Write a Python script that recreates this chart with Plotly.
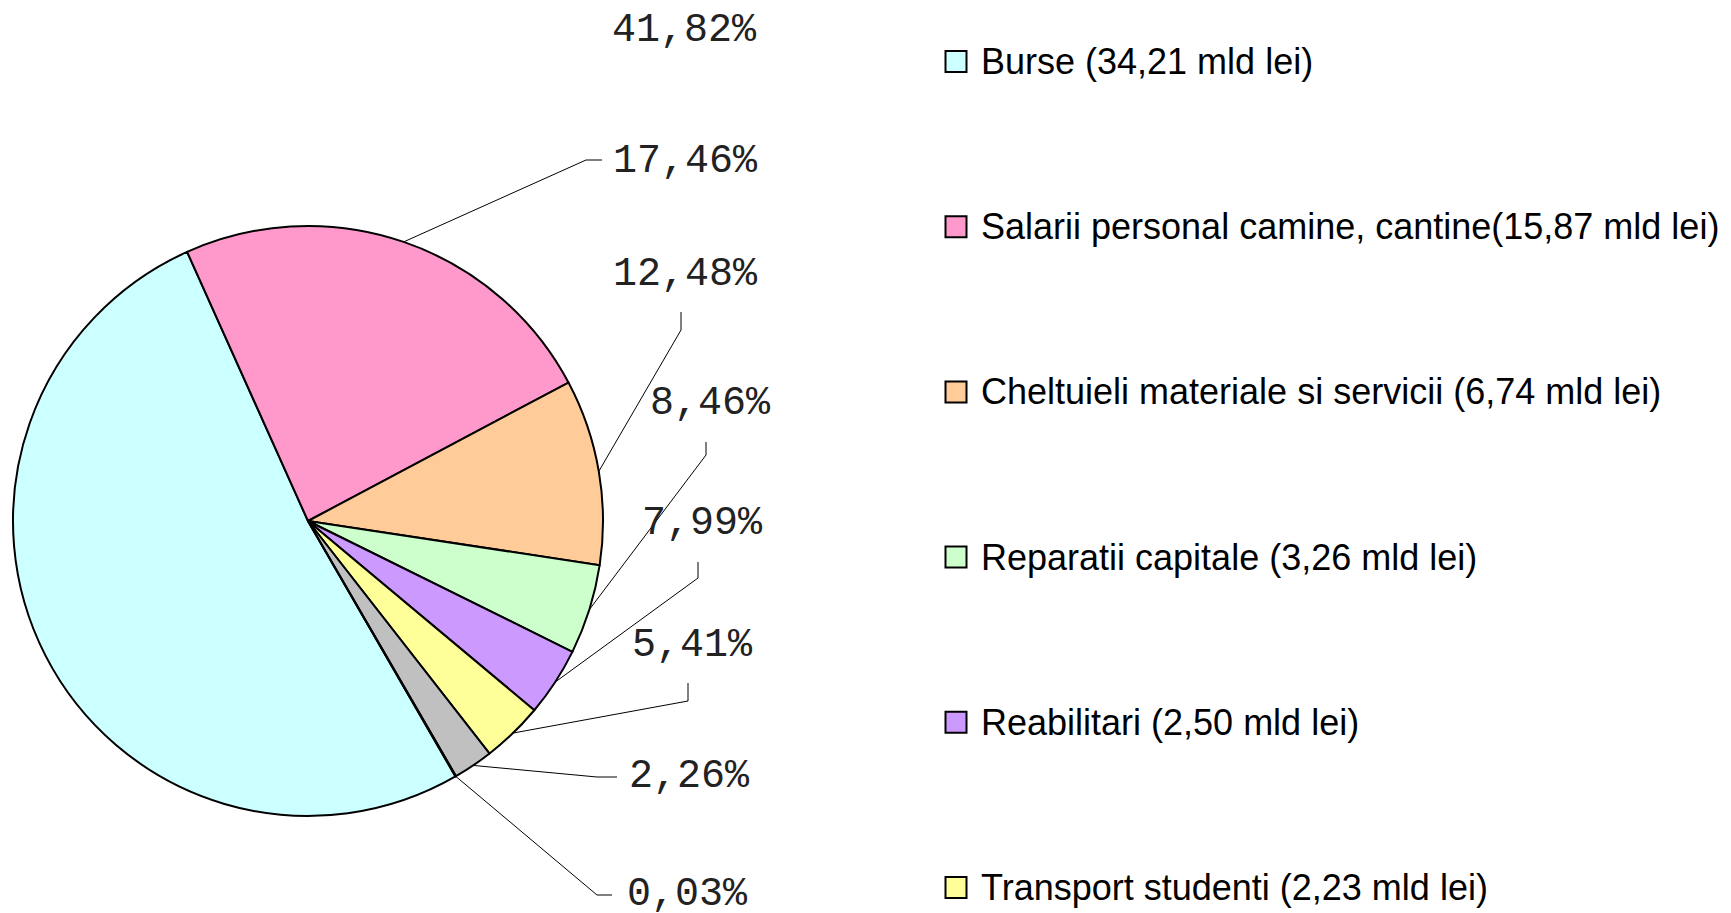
import math
import plotly.graph_objects as go

# ---------------- data ----------------
categories = [
    "Burse",
    "Salarii personal camine, cantine",
    "Cheltuieli materiale si servicii",
    "Reparatii capitale",
    "Reabilitari",
    "Transport studenti",
    "Categoria 7",
    "Categoria 8",
]
values_mld_lei = [34.21, 15.87, 6.74, 3.26, 2.50, 2.23, 1.45, 0.02]
pct_labels = ["41,82%", "17,46%", "12,48%", "8,46%", "7,99%", "5,41%", "2,26%", "0,03%"]
legend_count = 6  # entries visible in the legend
legend_sep = [" ", "", " ", " ", " ", " "]

colors = ["#CCFFFF", "#FF99CC", "#FFCC99", "#CCFFCC", "#CC99FF", "#FFFF99", "#C0C0C0", "#FF8080"]

# ---------------- layout constants (pixels) ----------------
W, H = 1731, 913
PIE_CX, PIE_CY, PIE_R = 308, 521, 295
ROTATION = 150.0

label_pos = [(610, 30), (611, 161), (611, 274), (648, 403), (640, 523), (630, 645), (627, 776), (625, 894)]
leader_bends = [None,
                [(586, 160), (602, 160)],
                [(681, 330), (681, 312)],
                [(706, 455), (706, 442)],
                [(698, 578), (698, 562)],
                [(688, 701), (688, 683)],
                [(597, 777), (617, 777)],
                [(597, 895), (612, 895)]]
LEG_SQ_X, LEG_TX_X, LEG_Y0, LEG_DY = 956, 979, 61.5, 165.2

fig = go.Figure()

# pie
fig.add_trace(go.Pie(
    labels=categories, values=values_mld_lei,
    sort=False, direction="clockwise", rotation=ROTATION,
    marker=dict(colors=colors, line=dict(color="black", width=2)),
    textinfo="none", hoverinfo="label+value", showlegend=False,
    domain=dict(x=[(PIE_CX - PIE_R) / W, (PIE_CX + PIE_R) / W],
                y=[(H - PIE_CY - PIE_R) / H, (H - PIE_CY + PIE_R) / H]),
))

# leader lines anchored at slice mid-angles (computed from the values)
total = sum(values_mld_lei)
cum = 0.0
for i, v in enumerate(values_mld_lei):
    mid = ROTATION + (cum + v / 2) / total * 360.0
    cum += v
    bends = leader_bends[i]
    if bends is None:
        continue
    a = math.radians(mid)
    ax = PIE_CX + PIE_R * math.sin(a)
    ay = PIE_CY - PIE_R * math.cos(a)
    xs = [ax] + [p[0] for p in bends]
    ys = [ay] + [p[1] for p in bends]
    fig.add_trace(go.Scatter(x=xs, y=ys, mode="lines",
                             line=dict(color="black", width=1),
                             hoverinfo="skip", showlegend=False))

# percentage labels
for i, t in enumerate(pct_labels):
    x, y = label_pos[i]
    fig.add_annotation(x=x, y=y, xref="x", yref="y", text=t, showarrow=False,
                       xanchor="left", yanchor="middle",
                       font=dict(family="Liberation Mono", size=40, color="#222222"))

# legend (drawn manually to match spacing)
for i in range(legend_count):
    y = LEG_Y0 + i * LEG_DY
    fig.add_trace(go.Scatter(x=[LEG_SQ_X], y=[y], mode="markers",
                             marker=dict(symbol="square", size=21, color=colors[i],
                                         line=dict(color="black", width=2)),
                             hoverinfo="skip", showlegend=False))
    txt = f"{categories[i]}{legend_sep[i]}({values_mld_lei[i]:.2f}".replace(".", ",") + " mld lei)"
    fig.add_annotation(x=LEG_TX_X, y=y, xref="x", yref="y", text=txt, showarrow=False,
                       xanchor="left", yanchor="middle",
                       font=dict(family="Liberation Sans", size=36, color="black"))

fig.update_layout(
    width=W, height=H,
    margin=dict(l=0, r=0, t=0, b=0),
    paper_bgcolor="white", plot_bgcolor="white",
    xaxis=dict(range=[0, W], visible=False, fixedrange=True, domain=[0, 1]),
    yaxis=dict(range=[H, 0], visible=False, fixedrange=True, domain=[0, 1]),
    showlegend=False,
)

fig.write_html("out.html",
               config={"displayModeBar": False},
               post_script="document.body.style.margin='0px';document.body.style.overflow='hidden';")
